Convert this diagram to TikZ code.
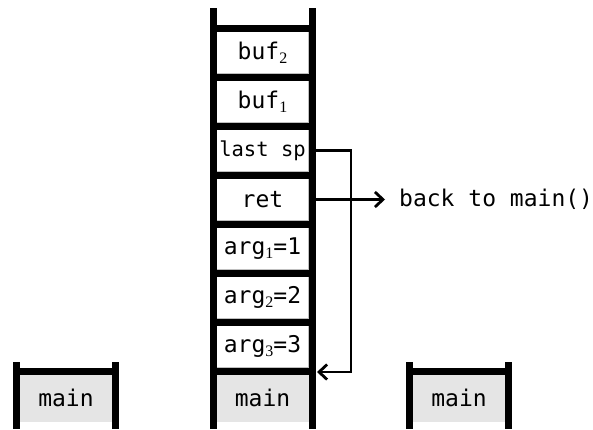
\documentclass[tikz,border=0pt]{standalone}
\usepackage{fontspec}
\setmonofont{DejaVu Sans Mono}
\newfontfamily\subfont{Liberation Serif}
\usetikzlibrary{arrows.meta}
\newcommand\mysub[1]{\raisebox{-0.3ex}{\subfont\fontsize{16}{17}\selectfont #1}}
\begin{document}
\begin{tikzpicture}[x=1pt,y=-1pt,
  bar/.style={line width=7pt},
  txt/.style={font=\ttfamily\fontsize{23}{27}\selectfont},
  cell/.style={txt, draw=black!25, line width=1pt, fill=white, minimum width=92pt, minimum height=42pt, inner sep=0pt},
  maincell/.style={txt, fill=black!10, minimum width=92pt, minimum height=47pt, inner sep=0pt},
  link/.style={line width=2.8pt, -{Straight Barb[length=8pt,width=15pt]}},
  ]
\useasboundingbox (0,0) rectangle (593,429);
% middle stack cells
\node[cell] (buf2) at (262.5,52.5) {buf\mysub{2}};
\node[cell] (buf1) at (262.5,101.5) {buf\mysub{1}};
\node[cell, font=\ttfamily\fontsize{20.5}{24}\selectfont] (lastsp) at (262.5,150.5) {last sp};
\node[cell] (ret) at (262.5,199.5) {ret};
\node[cell] (arg1) at (262.5,248.5) {arg\mysub{1}=1};
\node[cell] (arg2) at (262.5,297.5) {arg\mysub{2}=2};
\node[cell] (arg3) at (262.5,346.5) {arg\mysub{3}=3};
\node[maincell] (mainm) at (262.5,398) {main};
% side stacks
\node[maincell] (mainl) at (66,398) {main};
\node[maincell] (mainr) at (459,398) {main};
% middle bars and rungs
\draw[bar] (213,8) -- (213,429);
\draw[bar] (312,8) -- (312,429);
\foreach \y in {28,77,126,175,224,273,322,371}
  \draw[bar] (213,\y) -- (312,\y);
% left stack
\draw[bar] (16.5,362) -- (16.5,429);
\draw[bar] (115.5,362) -- (115.5,429);
\draw[bar] (16.5,371) -- (115.5,371);
% right stack
\draw[bar] (409.5,362) -- (409.5,429);
\draw[bar] (508.5,362) -- (508.5,429);
\draw[bar] (409.5,371) -- (508.5,371);
% connectors
\coordinate (lastspret) at (317,372);
\draw[link] (lastsp.east) -- (351,150.5) -- (351,372) -- (lastspret);
\node[txt, anchor=west, inner sep=0pt] (back) at (399,199.5) {back to main()};
\draw[link, shorten >=14pt] (ret.east) -- (back.west);
\end{tikzpicture}
\end{document}
